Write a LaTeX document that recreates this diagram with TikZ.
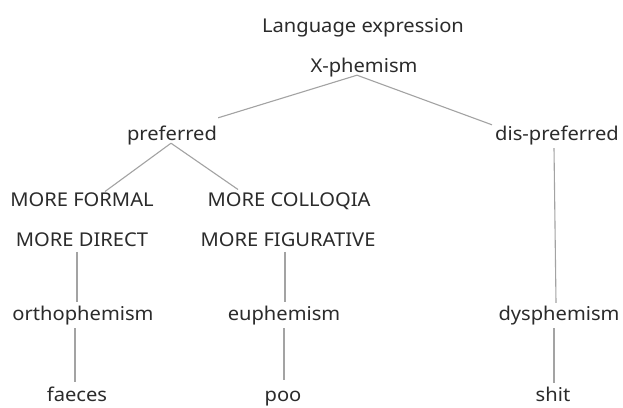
\documentclass[tikz,border=0pt]{standalone}
\usepackage{fontspec}
\setmainfont{Noto Sans}
\usetikzlibrary{calc}
\definecolor{txt}{HTML}{2B2B2B}
\definecolor{lnc}{HTML}{A3A3A3}
\begin{document}
\begin{tikzpicture}[x=1pt,y=-1pt,
  lbl/.style={anchor=base,inner sep=0pt,text height=14pt,text depth=4pt,
    font=\fontsize{19}{22}\selectfont,text=txt,xscale=1.06},
  ln/.style={draw=lnc,line width=1.1pt}]
\useasboundingbox[fill=white] (0,0) rectangle (623,407);
\node[lbl] (lang) at (363,32.5) {Language expression};
\node[lbl] (xph) at (364,72.7) {X-phemism};
\node[lbl] (pref) at (172,140) {preferred};
\node[lbl] (dis) at (557,140) {dis-preferred};
\node[lbl] (mf) at (82,206.7) {MORE FORMAL};
\node[lbl] (mc) at (289,206.7) {MORE COLLOQIA};
\node[lbl] (md) at (82,246.7) {MORE DIRECT};
\node[lbl] (mfig) at (288,246.7) {MORE FIGURATIVE};
\node[lbl] (ortho) at (83,320) {orthophemism};
\node[lbl] (eu) at (284,320) {euphemism};
\node[lbl] (dys) at (559,320) {dysphemism};
\node[lbl] (fae) at (77,401) {faeces};
\node[lbl] (poo) at (283,401) {poo};
\node[lbl] (shit) at (553,401) {shit};
\draw[ln] ($(xph.south)+(-7,-1.7)$) -- ($(pref.north east)+(1,-8)$);
\draw[ln] ($(xph.south)+(-7,-1.7)$) -- ($(dis.north west)+(-3,-1)$);
\draw[ln] ($(pref.south)+(-1,-1)$) -- ($(mf.north)+(23,-1)$);
\draw[ln] ($(pref.south)+(-1,-1)$) -- ($(mc.north)+(-51,-3)$);
\draw[ln] ($(md.south)+(-5,1)$) -- ($(ortho.north)+(-6,-4)$);
\draw[ln] ($(mfig.south)+(-3,1)$) -- ($(eu.north)+(1,-4)$);
\draw[ln] ($(dis.south)+(-3,4)$) -- ($(dys.north)+(-3,-3)$);
\draw[ln] ($(ortho.south)+(-8,4)$) -- ($(fae.north)+(-2,-5)$);
\draw[ln] ($(eu.south)+(0,4)$) -- ($(poo.north)+(1,-7)$);
\draw[ln] ($(dys.south)+(-5,4)$) -- ($(shit.north)+(1,-4)$);
\end{tikzpicture}
\end{document}
